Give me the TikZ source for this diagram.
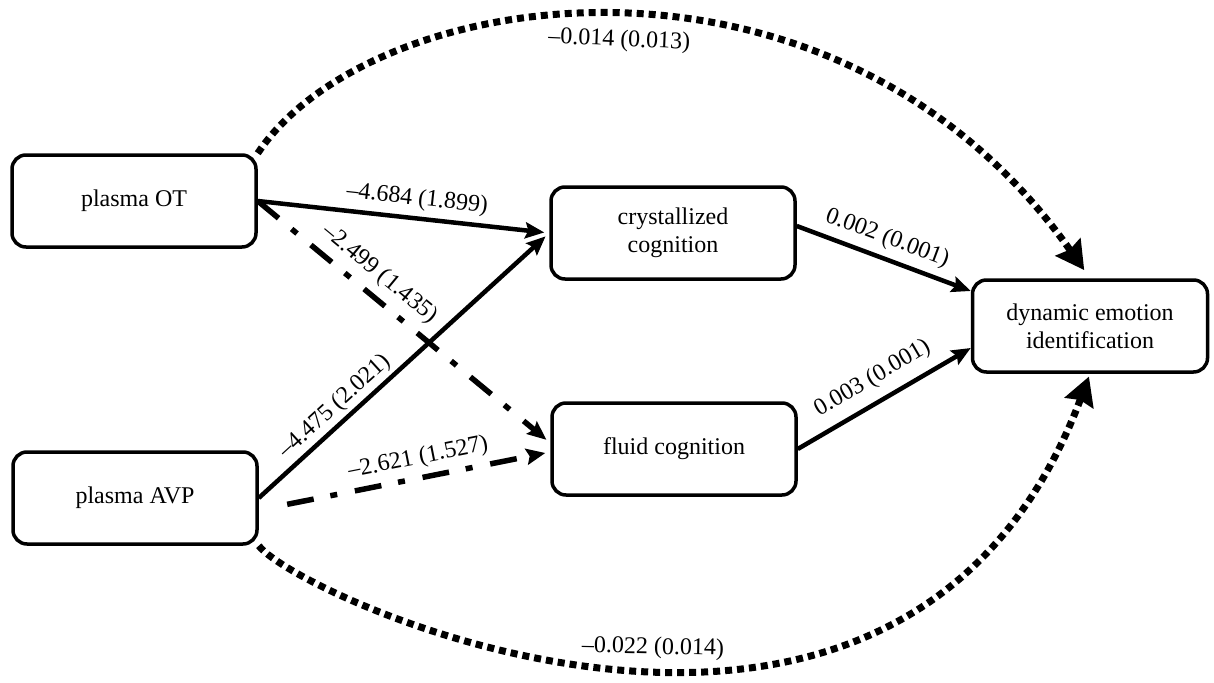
\documentclass[tikz,border=0pt]{standalone}
\usepackage{fontspec}
\setmainfont{Liberation Serif}
\usetikzlibrary{arrows.meta}

\begin{document}
\begin{tikzpicture}[x=1pt,y=-1pt]
    \tikzstyle{varbox}=[draw,line width=3.5pt,rounded corners=14pt,minimum width=244pt,minimum height=92pt,align=center,font=\fontsize{24}{28}\selectfont]
    \tikzstyle{solidpath}=[line width=4.5pt,-{Stealth[length=19pt,width=16pt,inset=3pt]}]
    \tikzstyle{ddpath}=[line width=5.5pt,dash pattern=on 27pt off 17pt on 7pt off 18pt,-{Stealth[length=19pt,width=16pt,inset=3pt]}]
    \tikzstyle{dotpath}=[line width=7pt,dash pattern=on 7pt off 5pt,-{Stealth[length=28pt,width=30pt,inset=3pt]}]
    \tikzstyle{coef}=[font=\fontsize{24}{28}\selectfont,sloped,inner sep=0pt]

    \useasboundingbox (0,0) rectangle (1214,682);

    % variables
    \node[varbox] (ot) at (134,201) {plasma OT};
    \node[varbox] (avp) at (135,498) {plasma AVP};
    \node[varbox] (cryst) at (673,233) {crystallized\\cognition};
    \node[varbox] (fluid) at (674,449) {fluid cognition};
    \node[varbox,minimum width=235pt] (dei) at (1090,326) {dynamic emotion\\identification};

    % paths to cognition
    \draw[solidpath,shorten >=5pt] (ot.east) -- (cryst.west)
        node[coef,above=6pt,pos=0.54] (cOTcr) {--4.684 (1.899)};
    \draw[solidpath,shorten >=5pt] (avp.east) -- (cryst.west)
        node[coef,above=3pt,pos=0.30] (cAVPcr) {--4.475 (2.021)};
    \draw[ddpath,shorten >=5pt] (ot.east) -- ([yshift=6pt]fluid.west)
        node[coef,above=8pt,pos=0.37] (cOTfl) {--2.499 (1.435)};
    \draw[ddpath,shorten <=29pt,shorten >=5pt] ([yshift=-12pt]avp.east) -- ([yshift=-3pt]fluid.west)
        node[coef,above=6pt,pos=0.56] (cAVPfl) {--2.621 (1.527)};

    % paths to emotion identification
    \draw[solidpath] ([yshift=7pt]cryst.east) -- ([yshift=35pt]dei.west)
        node[coef,above=7pt,pos=0.48] (cCRdei) {0.002 (0.001)};
    \draw[solidpath] (fluid.east) -- ([yshift=-22pt]dei.west)
        node[coef,above=10pt,pos=0.5] (cFLdei) {0.003 (0.001)};

    % direct effects
    \draw[dotpath,shorten >=10pt] (ot.north east) .. controls (371,-17) and (834,-84) .. (dei.north)
        node[coef,below=10pt,pos=0.5] (cOTdei) {--0.014 (0.013)};
    \draw[dotpath,shorten >=3pt] (avp.south east) .. controls (301,600) and (903,872) .. (dei.south)
        node[coef,above=6pt,pos=0.53] (cAVPdei) {--0.022 (0.014)};
\end{tikzpicture}
\end{document}
